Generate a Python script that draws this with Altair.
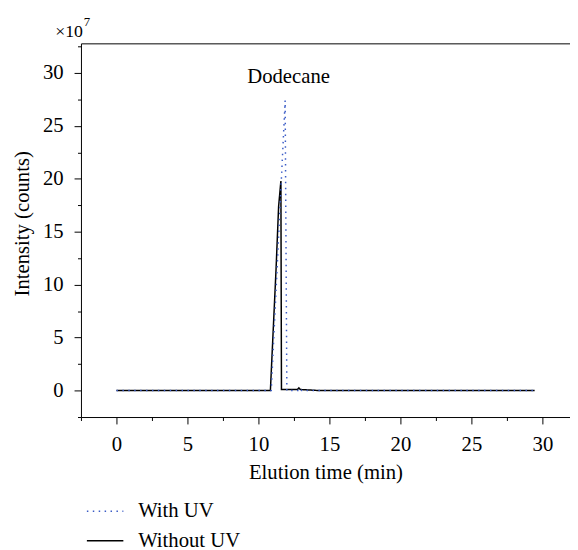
import altair as alt
import pandas as pd

# ---- data ----
with_time = [0.0, 10.9, 11.88, 12.0, 12.85, 12.95, 13.05, 29.4]
with_int = [0.0, 0.0, 27.4, 0.0, 0.0, 0.2, 0.0, 0.0]
without_time = [0.0, 10.84, 11.24, 11.42, 11.58, 11.62, 12.75, 12.85, 12.95, 14.3, 29.45]
without_int = [0.0, 0.0, 11.5, 17.4, 19.8, 0.1, 0.1, 0.25, 0.1, 0.0, 0.0]

series_names = ["With UV", "Without UV"]
series_colors = ["#3b5cc6", "#000000"]
series_dash = [[1.5, 4.5], [1, 0]]

x_major = [0, 5, 10, 15, 20, 25, 30]
x_minor = [-2.5, 2.5, 7.5, 12.5, 17.5, 22.5, 27.5]
y_major = [0, 5, 10, 15, 20, 25, 30]
y_minor = [-2.5, 2.5, 7.5, 12.5, 17.5, 22.5, 27.5, 32.5]

peak_label = ["Dodecane"]
peak_label_time = [12.12]
peak_label_int = [29.07]

mult_text = ["\u00d710"]
mult_time = [-2.36]
mult_int = [33.42]
exp_text = ["7"]
exp_time = [-2.31]
exp_int = [34.44]

FONT = "Liberation Serif"

df = pd.DataFrame(
    {
        "time": with_time + without_time,
        "intensity": with_int + without_int,
        "series": [series_names[0]] * len(with_time) + [series_names[1]] * len(without_time),
    }
)
peak_df = pd.DataFrame({"time": peak_label_time, "intensity": peak_label_int, "label": peak_label})
mult_df = pd.DataFrame({"time": mult_time, "intensity": mult_int, "label": mult_text})
exp_df = pd.DataFrame({"time": exp_time, "intensity": exp_int, "label": exp_text})

xs = alt.Scale(domain=[-2.5, 31.94], nice=False, zero=False)
ys = alt.Scale(domain=[-2.5, 32.8], nice=False, zero=False)

legend = alt.Legend(
    title=None,
    orient="none",
    legendX=5,
    legendY=455,
    symbolType="stroke",
    symbolSize=1369,
    symbolStrokeWidth=1.5,
    labelFont=FONT,
    labelFontSize=21,
    labelColor="black",
    labelOffset=14,
    rowPadding=-2,
    padding=0,
    direction="vertical",
)
color = alt.Color("series:N", scale=alt.Scale(domain=series_names, range=series_colors), legend=legend)
dash = alt.StrokeDash("series:N", scale=alt.Scale(domain=series_names, range=series_dash), legend=legend)

x_main = alt.X(
    "time:Q",
    scale=xs,
    axis=alt.Axis(
        values=x_major,
        title="Elution time (min)",
        tickSize=7,
        labelPadding=10,
        titlePadding=7,
        orient="bottom",
        format="d",
        labelFont=FONT,
        titleFont=FONT,
    ),
)
y_main = alt.Y(
    "intensity:Q",
    scale=ys,
    axis=alt.Axis(
        values=y_major,
        title="Intensity (counts)",
        tickSize=7,
        labelPadding=11,
        titleX=-49,
        titleY=182.5,
        titleBaseline="bottom",
        orient="left",
        format="d",
        labelFont=FONT,
        titleFont=FONT,
    ),
)

black = (
    alt.Chart(df)
    .transform_filter(alt.datum.series == series_names[1])
    .mark_line(strokeWidth=1.5)
    .encode(x=x_main, y=y_main, color=color, strokeDash=dash)
)
dotted = (
    alt.Chart(df)
    .transform_filter(alt.datum.series == series_names[0])
    .mark_line(strokeWidth=1.5, strokeCap="butt")
    .encode(
        x=alt.X("time:Q", scale=xs, axis=None),
        y=alt.Y("intensity:Q", scale=ys, axis=None),
        color=color,
        strokeDash=dash,
    )
)
minor = (
    alt.Chart(df)
    .mark_line(opacity=0)
    .encode(
        x=alt.X(
            "time:Q",
            scale=xs,
            axis=alt.Axis(values=x_minor, labels=False, title=None, domain=False, tickSize=3.5, orient="bottom"),
        ),
        y=alt.Y(
            "intensity:Q",
            scale=ys,
            axis=alt.Axis(values=y_minor, labels=False, title=None, domain=False, tickSize=3.5, orient="left"),
        ),
        detail="series:N",
    )
)
top = (
    alt.Chart(df)
    .mark_line(opacity=0)
    .encode(
        x=alt.X(
            "time:Q",
            scale=xs,
            axis=alt.Axis(labels=False, ticks=False, title=None, domain=True, orient="top"),
        ),
        y=alt.Y("intensity:Q", scale=ys, axis=None),
        detail="series:N",
    )
)
peak = (
    alt.Chart(peak_df)
    .mark_text(font=FONT, fontSize=21, color="black", align="center", baseline="alphabetic")
    .encode(
        x=alt.X("time:Q", scale=xs, axis=None),
        y=alt.Y("intensity:Q", scale=ys, axis=None),
        text="label:N",
    )
)
mult = (
    alt.Chart(mult_df)
    .mark_text(font=FONT, fontSize=18, color="black", align="right", baseline="alphabetic")
    .encode(
        x=alt.X("time:Q", scale=xs, axis=None),
        y=alt.Y("intensity:Q", scale=ys, axis=None),
        text="label:N",
    )
)
expo = (
    alt.Chart(exp_df)
    .mark_text(font=FONT, fontSize=13, color="black", align="left", baseline="alphabetic")
    .encode(
        x=alt.X("time:Q", scale=xs, axis=None),
        y=alt.Y("intensity:Q", scale=ys, axis=None),
        text="label:N",
    )
)

chart = (
    alt.layer(black, dotted, minor, top, peak, mult, expo)
    .resolve_axis(x="independent", y="independent")
    .properties(
        width=496,
        height=379,
        autosize=alt.AutoSizeParams(type="none"),
        padding={"left": 74, "top": 32, "right": 0, "bottom": 131},
        background="white",
    )
    .configure(font=FONT)
    .configure_view(stroke=None)
    .configure_axis(
        domainColor="black",
        tickColor="black",
        labelColor="black",
        titleColor="black",
        labelFont=FONT,
        titleFont=FONT,
        labelFontSize=21,
        titleFontSize=21,
        titleFontWeight="normal",
        grid=False,
        domainWidth=1,
        tickWidth=1,
    )
)

chart.save("out.html", embed_options={"renderer": "svg", "actions": False})
